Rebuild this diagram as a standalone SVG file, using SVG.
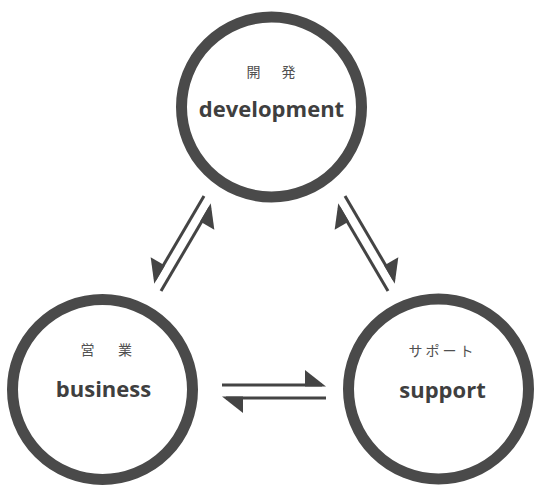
<svg xmlns="http://www.w3.org/2000/svg" width="535" height="486" viewBox="0 0 535 486">
  <style>
    .ring { fill: #ffffff; stroke: #4a4a4a; stroke-width: 11; }
    .jp { font-family: "Noto Sans CJK JP", "Noto Sans", sans-serif; font-size: 14px; fill: #505050; text-anchor: middle; }
    .en { font-family: "Open Sans", "Noto Sans", sans-serif; font-size: 22px; font-weight: bold; fill: #3f3f3f; text-anchor: middle; }
    .link { fill: none; stroke: #444444; stroke-width: 3; stroke-linecap: butt; }
    .head { fill: #444444; }
  </style>
  <defs>
    <marker id="harpoon-l" viewBox="-25 -20 30 40" markerWidth="30" markerHeight="40" refX="-4" refY="0" orient="auto" markerUnits="userSpaceOnUse" overflow="visible">
      <path class="head" d="M0,1.5 L-21,-15 L-21,1.5 Z"/>
    </marker>
    <marker id="harpoon-r" viewBox="-25 -20 30 40" markerWidth="30" markerHeight="40" refX="-4" refY="0" orient="auto" markerUnits="userSpaceOnUse" overflow="visible">
      <path class="head" d="M0,-1.5 L-21,15 L-21,-1.5 Z"/>
    </marker>
  </defs>
  <rect width="535" height="486" fill="#ffffff"/>

  <g id="connectors">
    <!-- development -> business -->
    <path class="link" d="M204,196 L155,279.5" marker-end="url(#harpoon-r)"/>
    <!-- business -> development -->
    <path class="link" d="M161,291 L210,207.5" marker-end="url(#harpoon-r)"/>
    <!-- development -> support -->
    <path class="link" d="M345,196 L394,279.5" marker-end="url(#harpoon-l)"/>
    <!-- support -> development -->
    <path class="link" d="M388,291 L339,207.5" marker-end="url(#harpoon-l)"/>
    <!-- business -> support -->
    <path class="link" d="M222,385 L322,385" marker-end="url(#harpoon-l)"/>
    <!-- support -> business -->
    <path class="link" d="M326,398 L226,398" marker-end="url(#harpoon-l)"/>
  </g>

  <g id="node-development">
    <circle class="ring" cx="271.5" cy="107" r="90"/>
    <text class="jp" x="253.5 271 288.5" y="77">開 発</text>
    <text class="en" x="271.5" y="117">development</text>
  </g>

  <g id="node-business">
    <circle class="ring" cx="102.5" cy="389.5" r="90"/>
    <text class="jp" x="87.5 106 125" y="355">営 業</text>
    <text class="en" x="103.5" y="397">business</text>
  </g>

  <g id="node-support">
    <circle class="ring" cx="438.5" cy="389" r="90"/>
    <text class="jp" x="442.5" y="356" letter-spacing="3">サポート</text>
    <text class="en" x="442.5" y="398">support</text>
  </g>
</svg>
